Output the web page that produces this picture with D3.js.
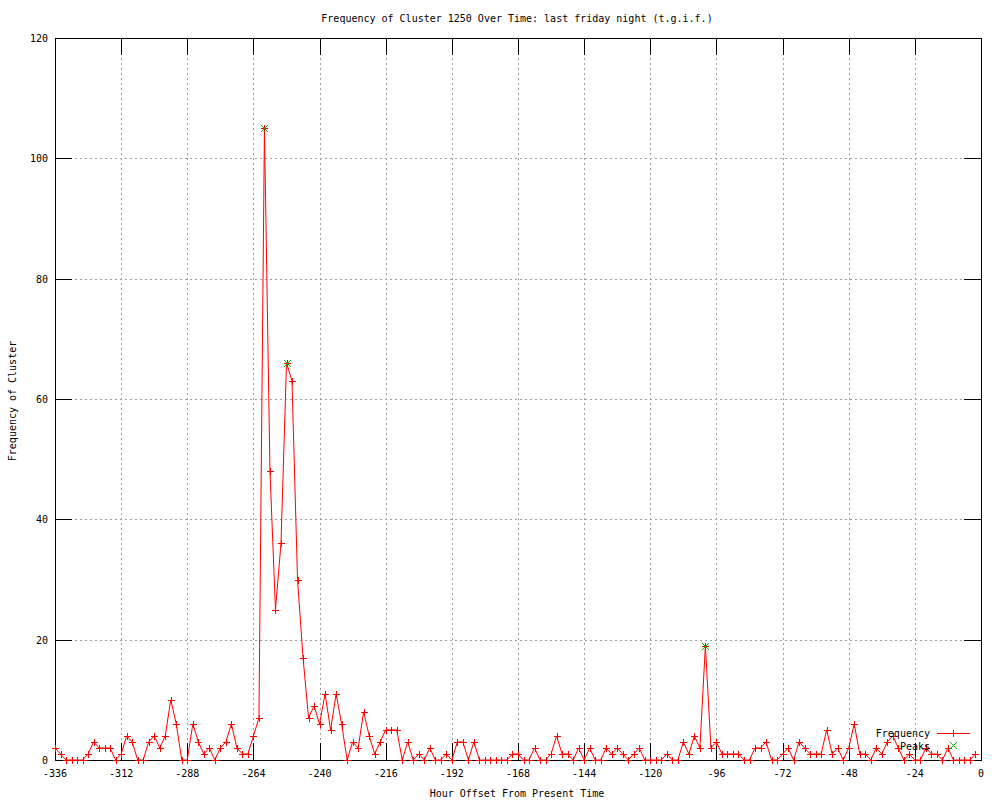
<!DOCTYPE html>
<html>
<head>
<meta charset="utf-8">
<script src="https://cdn.jsdelivr.net/npm/d3@7"></script>
<style>
  body { margin: 0; background: #fff; }
  text { font-family: "DejaVu Sans Mono", monospace; font-size: 10px; fill: #000; }
</style>
</head>
<body>
<div id="canvas"></div>
<script>
var width = 1000;
var height = 800;

// hour offsets, one sample every 2 hours
var hours = d3.range(-336, 0, 2);
var frequency = [
  2, 1, 0, 0, 0, 0, 1, 3, 2, 2,
  2, 0, 1, 4, 3, 0, 0, 3, 4, 2,
  4, 10, 6, 0, 0, 6, 3, 1, 2, 0,
  2, 3, 6, 2, 1, 1, 4, 7, 105, 48,
  25, 36, 66, 63, 30, 17, 7, 9, 6, 11,
  5, 11, 6, 0, 3, 2, 8, 4, 1, 3,
  5, 5, 5, 0, 3, 0, 1, 0, 2, 0,
  0, 1, 0, 3, 3, 0, 3, 0, 0, 0,
  0, 0, 0, 1, 1, 0, 0, 2, 0, 0,
  1, 4, 1, 1, 0, 2, 0, 2, 0, 0,
  2, 1, 2, 1, 0, 1, 2, 0, 0, 0,
  0, 1, 0, 0, 3, 1, 4, 2, 19, 2,
  3, 1, 1, 1, 1, 0, 0, 2, 2, 3,
  0, 0, 1, 2, 0, 3, 2, 1, 1, 1,
  5, 1, 2, 0, 2, 6, 1, 1, 0, 2,
  1, 3, 4, 2, 0, 1, 0, 0, 2, 1,
  1, 0, 2, 0, 0, 0, 0, 1
];
var peakHours = [-260, -252, -100];
var peakValues = [105, 66, 19];

var xTicks = d3.range(-336, 1, 24);
var yTicks = [0, 20, 40, 60, 80, 100, 120];

var plotLeft = 55, plotRight = 981, plotTop = 38, plotBottom = 760;

function draw(){
  var svg = d3.select("#canvas").append("svg")
    .attr("width", width).attr("height", height);

  var x = d3.scaleLinear().domain([-336, 0]).range([plotLeft, plotRight]);
  var y = d3.scaleLinear().domain([0, 120]).range([plotBottom, plotTop]);

  var grid = svg.append("g").attr("shape-rendering", "crispEdges");
  // dotted grid
  grid.selectAll(".gx").data(xTicks.slice(1, -1)).enter().append("line")
    .attr("x1", function(d){ return Math.round(x(d)) + 0.5; })
    .attr("x2", function(d){ return Math.round(x(d)) + 0.5; })
    .attr("y1", plotTop).attr("y2", plotBottom)
    .attr("stroke", "#a0a0a0").attr("stroke-dasharray", "2,3");
  grid.selectAll(".gy").data(yTicks.slice(1, -1)).enter().append("line")
    .attr("y1", function(d){ return Math.round(y(d)) + 0.5; })
    .attr("y2", function(d){ return Math.round(y(d)) + 0.5; })
    .attr("x1", plotLeft).attr("x2", plotRight)
    .attr("stroke", "#a0a0a0").attr("stroke-dasharray", "2,3");

  // tics on all four sides, pointing inward
  var tl = 17;
  xTicks.forEach(function(d){
    var px = Math.round(x(d)) + 0.5;
    grid.append("line").attr("x1", px).attr("x2", px)
      .attr("y1", plotBottom).attr("y2", plotBottom - tl).attr("stroke", "#000");
    grid.append("line").attr("x1", px).attr("x2", px)
      .attr("y1", plotTop).attr("y2", plotTop + tl).attr("stroke", "#000");
  });
  yTicks.forEach(function(d){
    var py = Math.round(y(d)) + 0.5;
    grid.append("line").attr("y1", py).attr("y2", py)
      .attr("x1", plotLeft).attr("x2", plotLeft + tl).attr("stroke", "#000");
    grid.append("line").attr("y1", py).attr("y2", py)
      .attr("x1", plotRight).attr("x2", plotRight - tl).attr("stroke", "#000");
  });

  grid.append("rect")
    .attr("x", plotLeft + 0.5).attr("y", plotTop + 0.5)
    .attr("width", plotRight - plotLeft).attr("height", plotBottom - plotTop)
    .attr("fill", "none").attr("stroke", "#000");

  // tick labels
  svg.selectAll(".xl").data(xTicks).enter().append("text")
    .attr("x", function(d){ return x(d); })
    .attr("y", 777)
    .attr("text-anchor", "middle")
    .text(function(d){ return d; });
  svg.selectAll(".yl").data(yTicks).enter().append("text")
    .attr("x", 48)
    .attr("y", function(d){ return y(d) + 4; })
    .attr("text-anchor", "end")
    .text(function(d){ return d; });

  svg.append("text").attr("x", 517).attr("y", 22).attr("text-anchor", "middle")
    .text("Frequency of Cluster 1250 Over Time: last friday night (t.g.i.f.)");
  svg.append("text").attr("x", 517).attr("y", 797).attr("text-anchor", "middle")
    .text("Hour Offset From Present Time");
  svg.append("text").attr("transform", "translate(16,401) rotate(-90)")
    .attr("text-anchor", "middle")
    .text("Frequency of Cluster");

  // frequency line
  var line = d3.line()
    .x(function(d, i){ return x(hours[i]); })
    .y(function(d){ return y(d); });
  svg.append("path").datum(frequency)
    .attr("d", line)
    .attr("fill", "none").attr("stroke", "#ff0000").attr("stroke-width", 1);

  var s = 3.5;
  function plus(g, cx, cy){
    g.append("path")
      .attr("d", "M" + (cx - s) + "," + cy + "H" + (cx + s) + "M" + cx + "," + (cy - s) + "V" + (cy + s))
      .attr("stroke", "#ff0000").attr("fill", "none");
  }
  function cross(g, cx, cy){
    g.append("path")
      .attr("d", "M" + (cx - s) + "," + (cy - s) + "L" + (cx + s) + "," + (cy + s) +
                 "M" + (cx - s) + "," + (cy + s) + "L" + (cx + s) + "," + (cy - s))
      .attr("stroke", "#00c000").attr("fill", "none");
  }

  var pts = svg.append("g").attr("shape-rendering", "crispEdges");
  frequency.forEach(function(d, i){
    plus(pts, Math.round(x(hours[i])) + 0.5, Math.round(y(d)) + 0.5);
  });

  var pk = svg.append("g");
  peakHours.forEach(function(h, i){
    cross(pk, Math.round(x(h)) + 0.5, Math.round(y(peakValues[i])) + 0.5);
  });

  // legend
  var lg = svg.append("g");
  lg.append("text").attr("x", 930).attr("y", 737).attr("text-anchor", "end").text("Frequency");
  lg.append("path").attr("d", "M937,733.5H970")
    .attr("stroke", "#ff0000").attr("stroke-width", 1).attr("shape-rendering", "crispEdges");
  plus(lg, 953.5, 733.5);
  lg.append("text").attr("x", 930).attr("y", 750).attr("text-anchor", "end").text("Peaks");
  cross(lg, 953.5, 745.5);
}

window.onload = draw;
</script>
</body>
</html>
